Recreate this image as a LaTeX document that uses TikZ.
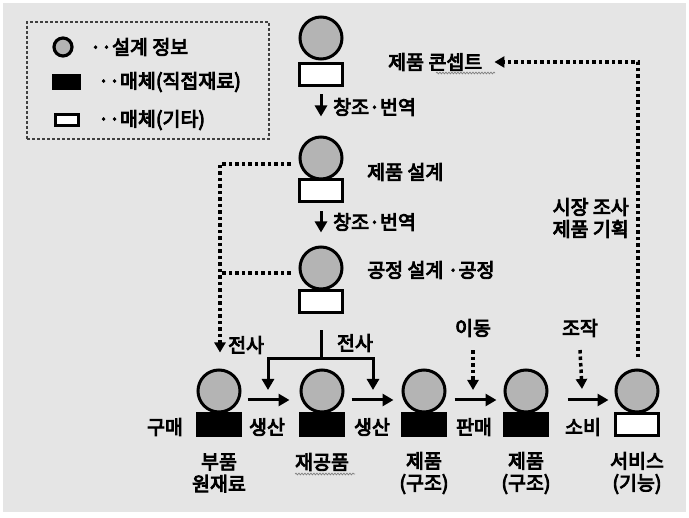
\documentclass[tikz,border=0pt]{standalone}
\usepackage{fontspec}
\setmainfont{Noto Sans CJK KR}[FakeBold=4.5]
\usetikzlibrary{arrows.meta,decorations.pathmorphing,calc}
\definecolor{bggray}{HTML}{E5E5E5}
\definecolor{cgray}{HTML}{B4B4B4}
\tikzset{
  circ/.style={circle, draw=black, line width=3pt, fill=cgray, minimum size=42pt, inner sep=0pt},
  frect/.style={draw=black, line width=3pt, fill=black, minimum width=43pt, minimum height=22pt, inner sep=0pt},
  orect/.style={draw=black, line width=3pt, fill=white, minimum width=43pt, minimum height=22pt, inner sep=0pt},
  lbl/.style={font=\fontsize{19.5pt}{22pt}\selectfont, inner sep=0pt, align=center},
  arr/.style={line width=3pt, -{Triangle[length=11pt,width=12pt]}},
  solid line/.style={line width=3pt},
  dotarr/.style={line width=3.5pt, dash pattern=on 3.5pt off 3pt, -{Triangle[length=10pt,width=11pt]}},
  dotline/.style={line width=3.5pt, dash pattern=on 3.5pt off 3pt},
  wavy/.style={draw=gray, line width=0.7pt, decorate, decoration={snake, amplitude=0.9pt, segment length=3pt}}
}
\begin{document}
\begin{tikzpicture}[x=1pt,y=-1pt]
\useasboundingbox (0,0) rectangle (689,518);
\fill[white] (0,0) rectangle (689,518);
\fill[bggray] (3,3) rectangle (686,512);

% legend
\node[draw=black!75, line width=1.2pt, dash pattern=on 3pt off 2pt, minimum width=242pt, minimum height=117pt, inner sep=0pt] (legend) at (148,80.5) {};
\node[circ, minimum size=18pt, line width=3.2pt] (lc) at (63,47) {};
\node[lbl, anchor=west] (lt1) at (90,47) {··설계 정보};
\node[frect, minimum width=26pt, minimum height=13pt] (lr1) at (66,82) {};
\node[lbl, anchor=west] (lt2) at (98,82) {··매체(직접재료)};
\node[orect, minimum width=23pt, minimum height=11pt, line width=3pt] (lr2) at (67,120) {};
\node[lbl, anchor=west] (lt3) at (98,120) {··매체(기타)};

% top column
\node[orect] (r1) at (321,75) {};
\node[circ] (c1) at (321,38) {};
\node[orect] (r2) at (321,191) {};
\node[circ] (c2) at (321,158) {};
\node[orect] (r3) at (321,302) {};
\node[circ] (c3) at (321,268) {};

\node[lbl, anchor=west] (concept) at (388,62) {제품 콘셉트};
\draw[wavy] (436,73) -- (495,73);
\node[lbl, anchor=west] (tr1) at (333,107) {창조·번역};
\node[lbl, anchor=west] (tr2) at (333,222) {창조·번역};
\node[lbl, anchor=west] (pd) at (367,172) {제품 설계};
\node[lbl, anchor=west] (pp) at (367,270) {공정 설계 ·공정};
\node[lbl, anchor=east] (mkt) at (629,218) {시장 조사\\제품 기획};

\draw[arr] ([yshift=-7pt]r1.south) -- ([yshift=19pt]c2.north);
\draw[arr] ([yshift=-8pt]r2.south) -- ([yshift=13pt]c3.north);

% bottom row
\node[frect] (r4) at (219,425) {};
\node[circ] (c4) at (219,391) {};
\node[frect] (r5) at (322,425) {};
\node[circ] (c5) at (322,391) {};
\node[frect] (r6) at (424,425) {};
\node[circ] (c6) at (424,391) {};
\node[frect] (r7) at (526,425) {};
\node[circ] (c7) at (526,391) {};
\node[orect] (r8) at (637,425) {};
\node[circ] (c8) at (637,391) {};

\node[lbl] (l4) at (219,473) {부품\\원재료};
\node[lbl] (l5) at (322,462) {재공품};
\draw[wavy] (295,474) -- (355,474);
\node[lbl] (l6) at (424,473) {제품\\(구조)};
\node[lbl] (l7) at (526,473) {제품\\(구조)};
\node[lbl] (l8) at (637,473) {서비스\\(기능)};

\node[lbl] (buy) at (165,427) {구매};
\node[lbl] (prod1) at (267,427) {생산};
\node[lbl] (prod2) at (372,427) {생산};
\node[lbl] (sell) at (474,427) {판매};
\node[lbl] (use) at (583,427) {소비};
\node[lbl] (move) at (473,328) {이동};
\node[lbl] (op) at (580,328) {조작};
\node[lbl, anchor=west] (ts1) at (228,345) {전사};
\node[lbl] (ts2) at (355,343) {전사};

\draw[arr] ([xshift=6pt,yshift=-9pt]c4.east) -- ([xshift=-10pt,yshift=-9pt]c5.west);
\draw[arr] ([xshift=7pt,yshift=-9pt]c5.east) -- ([xshift=-8pt,yshift=-9pt]c6.west);
\draw[arr] ([xshift=8pt,yshift=-9pt]c6.east) -- ([xshift=-7pt,yshift=-9pt]c7.west);
\draw[arr] ([xshift=19pt,yshift=-9pt]c7.east) -- ([xshift=-6pt,yshift=-9pt]c8.west);

\draw[dotarr] ([yshift=-13pt]move.south) -- ([yshift=1pt]move.south |- c7.west);
\draw[dotarr] ([yshift=-13pt]op.south) -- ([xshift=2pt,yshift=2pt]op.south |- c7.west);

% transfer bracket
\coordinate (j0) at ([yshift=-16pt]r3.south);
\coordinate (j) at ([yshift=-44pt]r3.south);
\coordinate (t1) at (268,390);
\coordinate (t2) at (373,390);
\draw[solid line] (j0) -- (j);
\draw[arr] ([xshift=1.5pt]j) -| (t1);
\draw[arr] ([xshift=-1.5pt]j) -| (t2);

% left dotted
\coordinate (d2) at ([xshift=-8pt,yshift=-6pt]c2.west);
\coordinate (d3) at ([xshift=-8pt,yshift=-5pt]c3.west);
\draw[dotarr] (d2) -| ([xshift=1pt,yshift=16pt]c4.north);
\draw[dotline] (d3) -- ([xshift=1pt]d3 -| c4);

% right dotted feedback
\draw[dotarr] ([xshift=1pt,yshift=11pt]c8.north) |- ([xshift=12pt]concept.east);
\end{tikzpicture}
\end{document}
